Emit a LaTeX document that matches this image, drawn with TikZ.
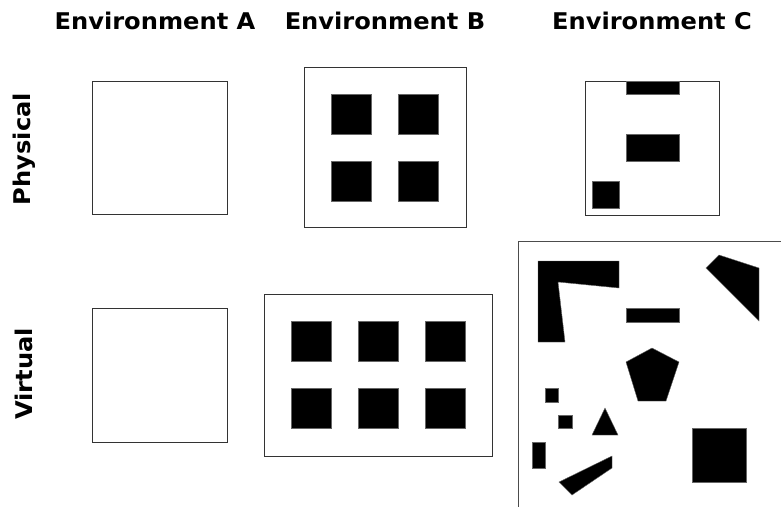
\documentclass[tikz,border=0pt]{standalone}
\usepackage{fontspec}
\setmainfont{DejaVu Sans}[FakeStretch=1.05]
\tikzset{
  label/.style={font=\bfseries\fontsize{23}{27}\selectfont, inner sep=0pt},
  room/.style={draw=black!80, line width=1pt, fill=white},
  block/.style={fill=black, draw=black!60, line width=0.4pt}
}
\begin{document}
\begin{tikzpicture}[x=1pt, y=-1pt]
      \useasboundingbox[fill=white] (0,0) rectangle (781,506);
      \draw
        (155,21) node[label] (envA){Environment A}
        (385,21) node[label] (envB){Environment B}
        (652,21) node[label] (envC){Environment C}
        (24,149) node[label, rotate=90] (phys){Physical}
        (24,374) node[label, rotate=90] (virt){Virtual};
      % environment A
      \draw[room] (92,81) rectangle (227,214);
      \draw[room] (92,308) rectangle (227,442);
      % environment B
      \begin{scope}
        \draw[room] (304,67) rectangle (466,227);
        \fill[block] (331,94) rectangle (371,134);
        \fill[block] (398,94) rectangle (438,134);
        \fill[block] (331,161) rectangle (371,201);
        \fill[block] (398,161) rectangle (438,201);
        \draw[room] (264,294) rectangle (492,456);
        \fill[block] (291,321) rectangle (331,361);
        \fill[block] (358,321) rectangle (398,361);
        \fill[block] (425,321) rectangle (465,361);
        \fill[block] (291,388) rectangle (331,428);
        \fill[block] (358,388) rectangle (398,428);
        \fill[block] (425,388) rectangle (465,428);
      \end{scope}
      % environment C
      \begin{scope}
        \draw[room] (585,81) rectangle (719,215);
        \fill[block] (626,81) rectangle (679,94);
        \fill[block] (626,134) rectangle (679,161);
        \fill[block] (592,181) rectangle (619,208);
        \draw[draw=black!70, line width=1pt] (518,510) -- (518,241) -- (785,241);
        \fill[block] (538,261) -- (619,261) -- (619,288) -- (558,282)
          -- (565,342) -- (538,342) -- cycle;
        \fill[block] (719,255) -- (759,268) -- (759,321) -- (706,268) -- cycle;
        \fill[block] (626,308) rectangle (679,322);
        \fill[block] (652,348) -- (679,362) -- (666,401) -- (638,401)
          -- (626,362) -- cycle;
        \fill[block] (545,388) rectangle (558,402);
        \fill[block] (558,415) rectangle (572,428);
        \fill[block] (605,408) -- (618,435) -- (592,435) -- cycle;
        \fill[block] (532,442) rectangle (545,468);
        \fill[block] (559,482) -- (612,456) -- (612,468) -- (572,495) -- cycle;
        \fill[block] (692,428) rectangle (746,482);
      \end{scope}
    \end{tikzpicture}
\end{document}
